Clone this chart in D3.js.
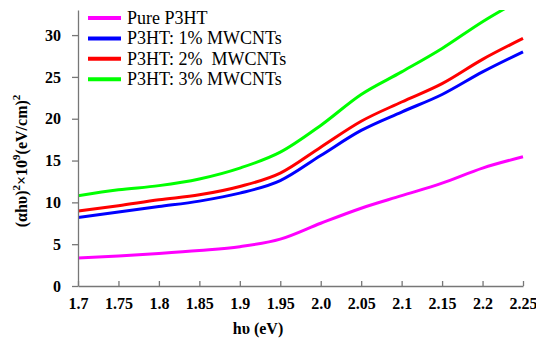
<!DOCTYPE html>
<html>
<head>
<meta charset="utf-8">
<script src="https://cdn.jsdelivr.net/npm/d3@7"></script>
<style>
  body { margin: 0px; background: white; }
  svg text { font-family: 'Liberation Serif', 'Times New Roman', Times, serif; }
</style>
</head>
<body>
<div id="app"></div>
<script>
// photon energy (eV) sample points
var energy = [1.70, 1.75, 1.80, 1.85, 1.90, 1.95, 2.00, 2.05, 2.10, 2.15, 2.20, 2.25]

// (alpha h nu)^2 x 1e9 values
var pure = [3.35, 3.6, 3.9, 4.25, 4.7, 5.6, 7.5, 9.3, 10.8, 12.3, 14.1, 15.45]
var cnt1 = [8.2, 8.85, 9.5, 10.15, 11.1, 12.6, 15.6, 18.6, 20.8, 22.9, 25.6, 28.0]
var cnt2 = [8.96, 9.6, 10.3, 10.9, 11.9, 13.5, 16.6, 19.7, 22.0, 24.2, 27.1, 29.6]
var cnt3 = [10.8, 11.5, 12.0, 12.8, 14.1, 16.0, 19.2, 22.9, 25.6, 28.4, 31.6, 34.4]

var seriesNames = ['Pure P3HT', 'P3HT: 1% MWCNTs', 'P3HT: 2%  MWCNTs', 'P3HT: 3% MWCNTs']
var seriesColors = ['#ff00ff', '#0000ff', '#ff0000', '#00ff00']
var seriesValues = [pure, cnt1, cnt2, cnt3]

var xTicks = [1.7, 1.75, 1.8, 1.85, 1.9, 1.95, 2.0, 2.05, 2.1, 2.15, 2.2, 2.25]
var xTickLabels = ['1.7', '1.75', '1.8', '1.85', '1.9', '1.95', '2.0', '2.05', '2.1', '2.15', '2.2', '2.25']
var yTicks = [0, 5, 10, 15, 20, 25, 30]

const W = 536, H = 343
const pLeft = 78, pRight = 523, pTop = 10, pBottom = 286
const serif = "'Liberation Serif', 'Times New Roman', Times, serif"

var svg = d3.select('#app').append('svg').attr('width', W).attr('height', H)
  .style('font-family', serif)

var x = d3.scaleLinear().domain([1.7, 2.25]).range([pLeft, pRight])
var y = d3.scaleLinear().domain([0, 33]).range([pBottom, pTop])

svg.append('defs').append('clipPath').attr('id', 'plot')
  .append('rect').attr('x', pLeft).attr('y', pTop).attr('width', pRight - pLeft + 4).attr('height', pBottom - pTop)

// lines
var line = d3.line().x((d, i) => x(energy[i])).y(d => y(d)).curve(d3.curveMonotoneX)
var g = svg.append('g').attr('clip-path', 'url(#plot)')
seriesValues.forEach((vals, k) => {
  g.append('path').attr('d', line(vals))
    .attr('fill', 'none').attr('stroke', seriesColors[k]).attr('stroke-width', 3)
})

// axes
var xAxis = svg.append('g').attr('transform', 'translate(0,' + pBottom + ')')
  .call(d3.axisBottom(x).tickValues(xTicks).tickFormat((d, i) => xTickLabels[i])
    .tickSizeInner(-5).tickSizeOuter(0).tickPadding(12))
var yAxis = svg.append('g').attr('transform', 'translate(' + pLeft + ',0)')
  .call(d3.axisLeft(y).tickValues(yTicks).tickSizeInner(6).tickSizeOuter(0).tickPadding(11))

;[xAxis, yAxis].forEach(a => {
  a.attr('font-family', null)
  a.selectAll('path, line').attr('stroke', '#777').attr('stroke-width', 1.3)
  a.selectAll('text').style('font-family', serif)
    .attr('font-size', 16).attr('font-weight', 'bold').attr('fill', '#000')
})

// axis titles
svg.append('text').attr('x', 258).attr('y', 334).attr('text-anchor', 'middle')
  .attr('font-size', 16).attr('font-weight', 'bold').text('h\u03c5 (eV)')

var yt = svg.append('text').attr('transform', 'translate(27,161) rotate(-90)')
  .attr('text-anchor', 'middle').attr('font-size', 16).attr('font-weight', 'bold')
yt.append('tspan').text('(\u03b1h\u03c5)')
yt.append('tspan').attr('font-size', 11).attr('dy', -7).text('2')
yt.append('tspan').attr('dy', 7).text('\u00d710')
yt.append('tspan').attr('font-size', 11).attr('dy', -7).text('9')
yt.append('tspan').attr('dy', 7).text('(eV/cm)')
yt.append('tspan').attr('font-size', 11).attr('dy', -7).text('2')

// legend
var legend = svg.append('g')
seriesNames.forEach((name, k) => {
  var ly = 18 + k * 20.4
  legend.append('line').attr('x1', 88).attr('x2', 121).attr('y1', ly).attr('y2', ly)
    .attr('stroke', seriesColors[k]).attr('stroke-width', 4)
  legend.append('text').attr('x', 127).attr('y', ly + 6).attr('font-size', 18)
    .style('white-space', 'pre').text(name)
})
</script>
</body>
</html>
